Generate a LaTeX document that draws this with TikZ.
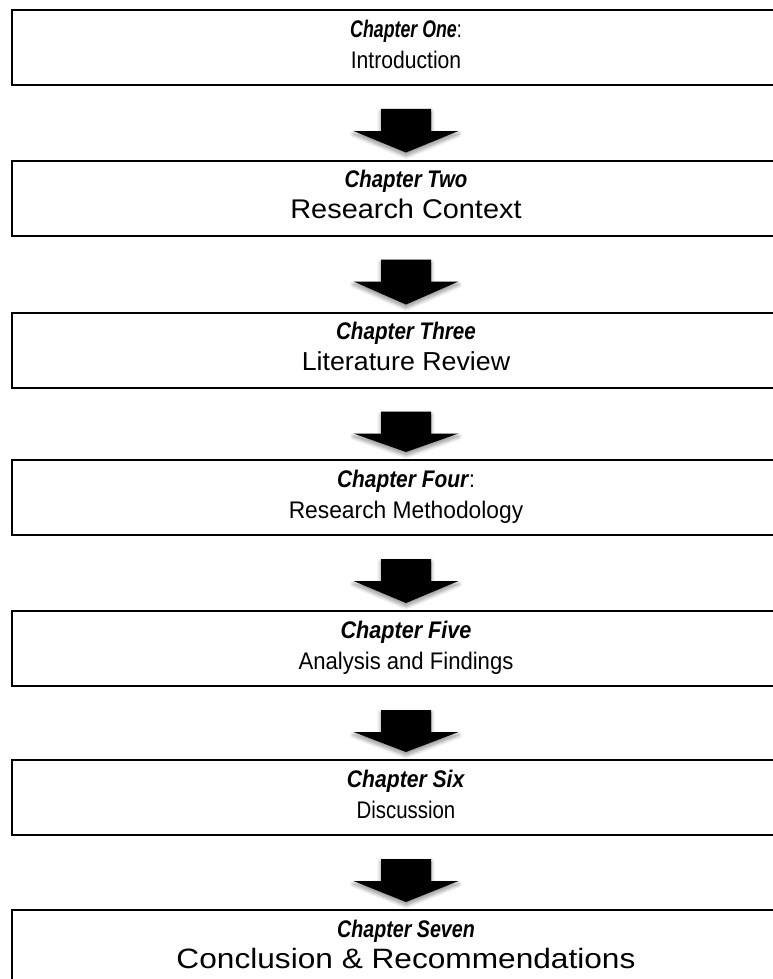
\documentclass[tikz,border=0pt]{standalone}
\usepackage{fontspec}
\setmainfont{Liberation Sans}
\usetikzlibrary{calc,shadows.blur}
% one line of text at a given size and horizontal scale
\newcommand\hsq[3]{\scalebox{#2}[1]{\fontsize{#1}{31}\selectfont #3}}
\newcommand\chaphead[1]{\textbf{\textit{#1}}}
\begin{document}
\begin{tikzpicture}[x=1pt,y=-1pt,
  chapbox/.style={draw=black, line width=2pt, minimum width=788pt,
    minimum height=75pt, align=center, inner sep=0pt, text depth=7pt,
    font=\fontsize{24}{31}\selectfont},
  flowarrow/.style={fill=black,
    blur shadow={shadow xshift=0pt, shadow yshift=-3pt,
      shadow opacity=45, shadow blur steps=10, shadow blur radius=4pt}}]
\useasboundingbox (0,0) rectangle (772,979);
\node[chapbox] (c1) at (406,47.5)
  {\hsq{24}{0.74}{\chaphead{Chapter One}:}\\\hsq{24}{0.88}{Introduction}};
\node[chapbox] (c2) at (406,198)
  {\hsq{24}{0.85}{\chaphead{Chapter Two}}\\\hsq{27}{1.07}{Research Context}};
\node[chapbox] (c3) at (406,350)
  {\hsq{24}{0.86}{\chaphead{Chapter Three}}\\\hsq{26}{1.03}{Literature Review}};
\node[chapbox] (c4) at (406,497.5)
  {\hsq{24}{0.87}{\chaphead{Chapter Four}:}\\\hsq{24}{0.95}{Research Methodology}};
\node[chapbox] (c5) at (406,648.5)
  {\hsq{24}{0.9}{\chaphead{Chapter Five}}\\\hsq{24}{0.92}{Analysis and Findings}};
\node[chapbox] (c6) at (406,797.5)
  {\hsq{24}{0.88}{\chaphead{Chapter Six}}\\\hsq{24}{0.85}{Discussion}};
\node[chapbox] (c7) at (406,947.5)
  {\hsq{24}{0.82}{\chaphead{Chapter Seven}}\\\hsq{28}{1.13}{Conclusion \& Recommendations}};
% block arrows between consecutive chapters
\foreach \a/\b in {c1/c2,c2/c3,c3/c4,c4/c5,c5/c6,c6/c7}
  \fill[flowarrow] ($(\a.south)+(-25,23)$) -- ($(\a.south)+(25,23)$)
    -- ($(\a.south)+(25,45)$) -- ($(\a.south)+(52.5,45)$)
    -- ($(\b.north)+(0,-7)$)
    -- ($(\a.south)+(-52.5,45)$) -- ($(\a.south)+(-25,45)$) -- cycle;
\end{tikzpicture}
\end{document}
